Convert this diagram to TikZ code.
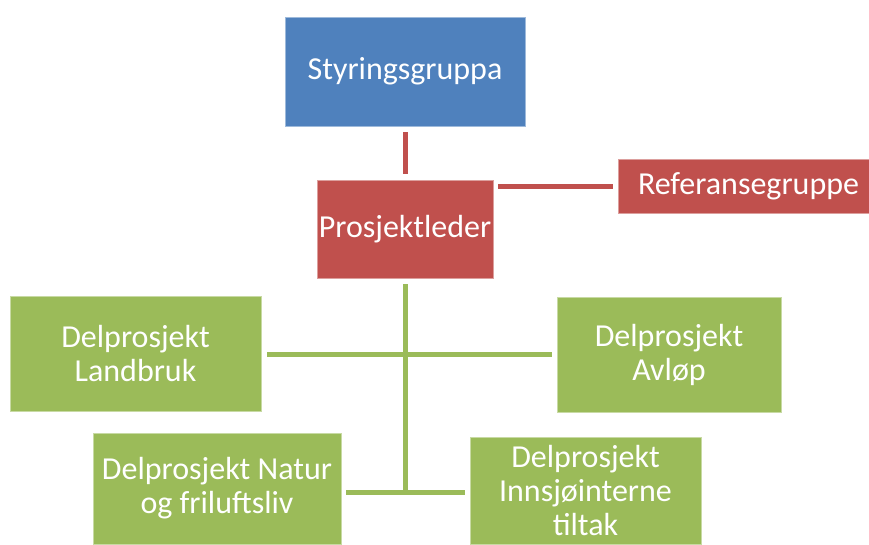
\documentclass[tikz,border=0pt]{standalone}
\usepackage{fontspec}
\setmainfont{Carlito}
\usetikzlibrary{calc}
\definecolor{cblue}{HTML}{4F81BD}
\definecolor{cred}{HTML}{C0504D}
\definecolor{cgreen}{HTML}{9BBB59}
\begin{document}
\begin{tikzpicture}[x=1pt,y=-1pt,
  box/.style={rectangle, inner sep=0pt, outer sep=0pt, text=white, align=center,
    font=\fontsize{32}{34}\selectfont, line width=0.8pt},
  bluebox/.style={box, fill=cblue, draw=cblue!55!white},
  redbox/.style={box, fill=cred, draw=cred!55!white},
  greenbox/.style={box, fill=cgreen, draw=cgreen!55!white},
  rline/.style={draw=cred, line width=5pt},
  gline/.style={draw=cgreen, line width=5pt}]
\useasboundingbox (0,0) rectangle (869,544);
\clip (0,0) rectangle (869,544);
\fill[white] (0,0) rectangle (869,544);
\node[bluebox, minimum width=240pt, minimum height=109pt] (styr) at (405,71.5) {Styringsgruppa};
\node[redbox, minimum width=176pt, minimum height=98pt] (pl) at (405,229) {Prosjektleder};
\node[redbox, minimum width=261pt, minimum height=54pt] (ref) at (748.5,186) {Referansegruppe};
\node[greenbox, minimum width=251pt, minimum height=115pt] (land) at (135.5,353.5) {Delprosjekt\\Landbruk};
\node[greenbox, minimum width=224pt, minimum height=115pt] (avl) at (669,354.5) {Delprosjekt\\Avløp};
\node[greenbox, minimum width=248pt, minimum height=111pt] (natur) at (217,488.5) {Delprosjekt Natur\\og friluftsliv};
\node[greenbox, minimum width=231pt, minimum height=107pt] (innsj) at (585.5,490.5) {Delprosjekt\\Innsjøinterne\\tiltak};
\coordinate (j1) at (405,354);
\coordinate (j2) at (405,492);
\draw[rline] ([yshift=-6pt]styr.south) -- ([yshift=6pt]pl.north);
\draw[rline] ([xshift=5pt,yshift=-6.5pt]pl.north east) -- ([xshift=-5.5pt,yshift=-0.5pt]ref.west);
\draw[gline] ([yshift=-6pt]pl.south) -- (j2);
\draw[gline] ($(land.east |- j1)+(6,0)$) -- ($(avl.west |- j1)+(-5,0)$);
\draw[gline] ($(natur.east |- j2)+(5,0)$) -- ($(innsj.west |- j2)+(-5.5,0)$);
\end{tikzpicture}
\end{document}
